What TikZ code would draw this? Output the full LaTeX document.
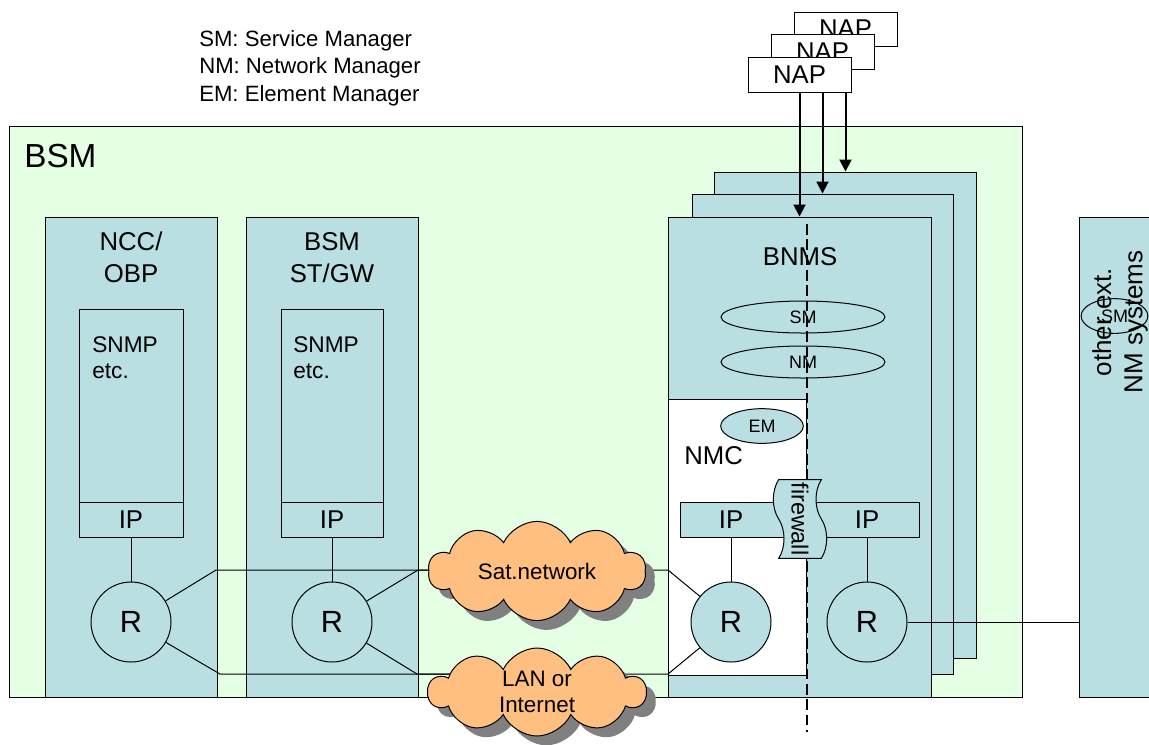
\documentclass[tikz,border=0pt]{standalone}
\usepackage{fontspec}
\setmainfont{Liberation Sans}
\usetikzlibrary{arrows.meta,shapes.geometric,shapes.symbols,shadows,fit}
\definecolor{bsmgreen}{RGB}{229,255,229}
\definecolor{unitblue}{RGB}{185,223,227}
\definecolor{cloudorange}{RGB}{255,191,128}
\pgfdeclarelayer{front}
\pgfsetlayers{main,front}
\tikzset{
  frame/.style={draw, line width=0.75pt, inner sep=0pt},
  unit/.style={frame, fill=unitblue},
  txt/.style={inner sep=0pt, font=\fontsize{19.3}{23}\selectfont},
  smalltxt/.style={inner sep=0pt, font=\fontsize{17}{20}\selectfont},
  router/.style={circle, draw, line width=0.75pt, fill=unitblue, minimum size=60pt,
    inner sep=0pt, font=\fontsize{23}{27}\selectfont},
  link/.style={line width=0.75pt},
  feed/.style={line width=1.5pt, -{Triangle[length=9pt,width=9pt]}},
  mgr/.style={ellipse, draw, line width=0.75pt, inner sep=0pt,
    font=\fontsize{13.5}{16}\selectfont},
  net/.style={cloud, cloud puffs=10, cloud puff arc=130, aspect=2.4, draw,
    line width=0.75pt, fill=cloudorange, inner sep=0pt, align=center,
    minimum width=163pt, minimum height=66pt,
    font=\fontsize{16.8}{20}\selectfont,
    drop shadow={shadow xshift=7pt, shadow yshift=-7pt, fill=black!50, opacity=1}},
  cut/.style={line width=1.7pt, dash pattern=on 8pt off 3.5pt},
}
\begin{document}
\begin{tikzpicture}[x=0.75pt,y=-0.75pt]
\useasboundingbox (0,0) rectangle (1149,744);
\clip (0,0) rectangle (1149,744);

% abbreviations
\node[inner sep=0pt, font=\fontsize{16.6}{20}\selectfont, anchor=base west] (lg1) at (199,46) {SM: Service Manager};
\node[inner sep=0pt, font=\fontsize{16.6}{20}\selectfont, anchor=base west] (lg2) at (199,73) {NM: Network Manager};
\node[inner sep=0pt, font=\fontsize{16.6}{20}\selectfont, anchor=base west] (lg3) at (199,101) {EM: Element Manager};

% BSM domain
\node[frame, fill=bsmgreen, fit={(9,126) (1022,697)}] (bsm) {};
\node[inner sep=0pt, font=\fontsize{25}{30}\selectfont, anchor=base west] (bsmlbl) at (24,167) {BSM};

% NCC/OBP
\node[unit, fit={(45,217) (217,697)}] (ncc) {};
\node[txt, anchor=base] (ncct1) at (131,250) {NCC/};
\node[txt, anchor=base] (ncct2) at (131,282) {OBP};
\node[unit, fit={(79,309) (183,502)}] (snmp1) {};
\node[smalltxt, anchor=base west] (snmp1a) at (92,352) {SNMP};
\node[smalltxt, anchor=base west] (snmp1b) at (92,378) {etc.};
\node[unit, fit={(79,502) (183,537)}] (ip1) {};
\node[txt] (ip1t) at (ip1.center) {IP};
\node[router] (r1) at (131,622) {R};

% BSM ST/GW
\node[unit, fit={(246,217) (418,697)}] (stgw) {};
\node[txt, anchor=base] (stgwt1) at (332,250) {BSM};
\node[txt, anchor=base] (stgwt2) at (332,282) {ST/GW};
\node[unit, fit={(281,309) (383,502)}] (snmp2) {};
\node[smalltxt, anchor=base west] (snmp2a) at (293,352) {SNMP};
\node[smalltxt, anchor=base west] (snmp2b) at (293,378) {etc.};
\node[unit, fit={(281,502) (383,537)}] (ip2) {};
\node[txt] (ip2t) at (ip2.center) {IP};
\node[router] (r2) at (332,622) {R};

% BNMS stack
\node[unit, fit={(714,172) (976,658)}] (bnms3) {};
\node[unit, fit={(692,194) (953,674)}] (bnms2) {};
\node[unit, fit={(668,217) (931,697)}] (bnms1) {};
\node[txt] (bnmst) at (800,257) {BNMS};
\node[mgr, minimum width=123pt, minimum height=24pt] (sm) at (803,317) {SM};
\node[mgr, minimum width=123pt, minimum height=24pt] (nm) at (803,362) {NM};
\node[frame, fill=white, fit={(668,399) (806,675)}] (nmc) {};
\node[mgr, fill=unitblue, minimum width=62pt, minimum height=26pt] (em) at (762,426) {EM};
\node[txt, anchor=base west] (nmct) at (684,464) {NMC};
\node[unit, fit={(680,502) (919,537)}] (ipbar) {};
\node[txt] (ipL) at (731,519.5) {IP};
\node[txt] (ipR) at (867,519.5) {IP};
\node[router] (r3) at (731,622) {R};
\node[router] (r4) at (867,622) {R};

% network access points
\node[frame, fill=white, fit={(794,12) (897,46)}] (nap3) {};
\node[txt] (nap3t) at (nap3.center) {NAP};
\node[frame, fill=white, fit={(771,34) (874,69)}] (nap2) {};
\node[txt] (nap2t) at (nap2.center) {NAP};
\node[frame, fill=white, fit={(748,57) (851,92)}] (nap1) {};
\node[txt] (nap1t) at (nap1.center) {NAP};

\draw[feed] (nap1.south) -- (nap1.south |- bnms1.north);
\draw[feed] ([xshift=17.25pt]nap1.south) -- ([xshift=17.25pt]nap1.south |- bnms2.north);
\draw[feed] ([xshift=34.5pt]nap1.south) -- ([xshift=34.5pt]nap1.south |- bnms3.north);

% other external NM systems
\node[unit, fit={(1079,217) (1170,697)}] (ext) {};
\node[inner sep=0pt, rotate=90, align=center, font=\fontsize{19.5}{23.5}\selectfont] (extt) at (1120,322) {other ext.\\NM systems};
\node[mgr, minimum width=50pt, minimum height=26pt] (extsm) at (1114.5,316) {SM};

% clouds, management boundary and firewall on top
\begin{pgfonlayer}{front}
\node[net] (sat) at (537,571) {Sat.network};
\node[net] (lan) at (537,692) {LAN or\\Internet};
\coordinate (cuttop) at (807,224);
\coordinate (cutbot) at (807,732);
\draw[cut] (cuttop) -- (cutbot);
\node[tape, draw, line width=0.75pt, fill=unitblue, rotate=-90, minimum width=59pt,
  minimum height=40pt, tape bend height=8pt, inner sep=0pt,
  font=\fontsize{17.5}{20}\selectfont] (fw) at (800,519) {firewall};
\end{pgfonlayer}

% links between routers and networks
\coordinate (s1) at (216,570);
\coordinate (s2) at (418,570);
\coordinate (s3) at (668,570);
\coordinate (l1) at (220,674);
\coordinate (l2) at (417,674);
\coordinate (l3) at (668,674);
\draw[link] (ip1) -- (r1);
\draw[link] (ip2) -- (r2);
\draw[link] (r1) -- (s1) -- (s1 -| sat.center);
\draw[link] (r2) -- (s2) -- (s2 -| sat.center);
\draw[link] (r1) -- (l1) -- (l1 -| lan.center);
\draw[link] (r2) -- (l2) -- (l2 -| lan.center);
\draw[link] (r3) -- (s3) -- (s3 -| sat.center);
\draw[link] (r3) -- (l3) -- (l3 -| lan.center);
\draw[link] (ipL |- ipbar.south) -- (r3);
\draw[link] (ipR |- ipbar.south) -- (r4);
\draw[link] (r4) -- (r4 -| ext.west);
\end{tikzpicture}
\end{document}
